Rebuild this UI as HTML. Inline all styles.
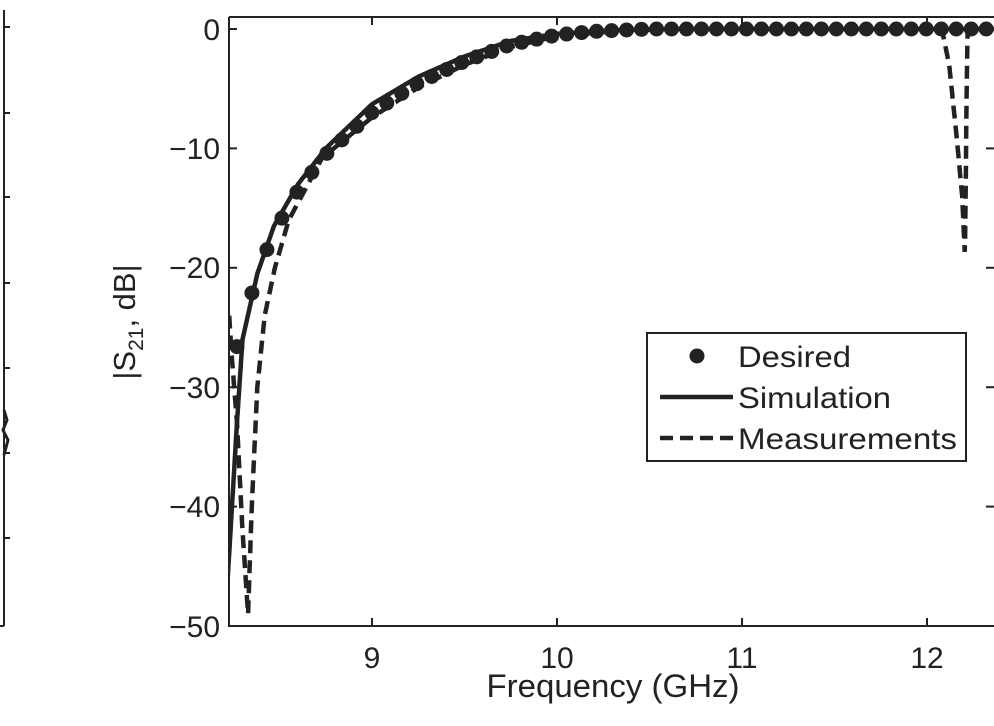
<!DOCTYPE html>
<html><head><meta charset="utf-8"><style>
html,body{margin:0;padding:0;background:#fff;width:994px;height:726px;overflow:hidden}
text{font-family:"Liberation Sans",sans-serif;fill:#222}
</style></head><body>
<svg id="s" width="994" height="726" xmlns="http://www.w3.org/2000/svg">
<defs><clipPath id="c"><rect x="229" y="17" width="770" height="609"/></clipPath></defs>
<line x1="4" y1="10" x2="4" y2="626" stroke="#222" stroke-width="2"/>
<g stroke="#222" stroke-width="2">
<line x1="4" y1="27" x2="10" y2="27"/><line x1="4" y1="113" x2="10" y2="113"/><line x1="4" y1="197" x2="10" y2="197"/><line x1="4" y1="283" x2="10" y2="283"/><line x1="4" y1="368" x2="10" y2="368"/><line x1="4" y1="453" x2="10" y2="453"/><line x1="4" y1="538" x2="10" y2="538"/><line x1="0" y1="626" x2="4" y2="626"/>
</g>
<path d="M4 410 L7 420 L3 430 L8 440 L4 455" stroke="#222" stroke-width="3" fill="none"/>
<path d="M229 17 H994 M229 17 V626 H994" stroke="#222" stroke-width="2" fill="none"/>
<g id="ticks" stroke="#222" stroke-width="2"></g>
<g font-size="30" text-anchor="end">
<text x="220" y="40">0</text><text x="220" y="159">−10</text><text x="220" y="278">−20</text><text x="220" y="398">−30</text><text x="220" y="517">−40</text><text x="220" y="637">−50</text>
</g>
<g font-size="30" text-anchor="middle">
<text x="372" y="668">9</text><text x="557" y="668">10</text><text x="742" y="668">11</text><text x="927" y="668">12</text>
<text x="613" y="697" font-size="32" textLength="253" lengthAdjust="spacingAndGlyphs">Frequency (GHz)</text>
</g>
<text transform="translate(135,322) rotate(-90)" font-size="31" text-anchor="middle">|S<tspan font-size="21" dy="8">21</tspan><tspan dy="-8">, dB|</tspan></text>
<g clip-path="url(#c)" id="data"></g>
<rect x="647" y="333" width="319" height="128" fill="#fff" stroke="#222" stroke-width="2"/>
<circle cx="697" cy="356" r="7.5" fill="#222"/>
<line x1="660" y1="397" x2="733" y2="397" stroke="#222" stroke-width="4.5"/>
<line x1="660" y1="438" x2="733" y2="438" stroke="#222" stroke-width="4.5" stroke-dasharray="13,7"/>
<g font-size="30"><text x="738" y="367" textLength="113" lengthAdjust="spacingAndGlyphs">Desired</text><text x="738" y="408" textLength="153" lengthAdjust="spacingAndGlyphs">Simulation</text><text x="738" y="449" textLength="219" lengthAdjust="spacingAndGlyphs">Measurements</text></g>
</svg>
<script>
var X=function(f){return 557+(f-10)*185},Y=function(d){return 29-d*11.94};
var ns="http://www.w3.org/2000/svg";
function interp(t,f){if(f<=t[0][0])return t[0][1];for(var i=1;i<t.length;i++){if(f<=t[i][0]){var a=t[i-1],b=t[i];return a[1]+(b[1]-a[1])*(f-a[0])/(b[0]-a[0]);}}return t[t.length-1][1];}
var D=[[8.2,-36],[8.27,-26.6],[8.38,-20.5],[8.47,-17],[8.6,-13.5],[8.75,-10.5],[9,-7],[9.25,-4.5],[9.5,-2.7],[9.75,-1.3],[10,-0.5],[10.2,-0.2],[10.5,0],[13,0]];
var S=[[8.22,-46],[8.27,-33],[8.3,-26],[8.38,-20.5],[8.47,-16.5],[8.6,-13],[8.75,-10],[9,-6.3],[9.25,-4],[9.5,-2.3],[9.75,-1],[10,-0.4],[10.3,-0.1],[10.6,0],[13,0]];
var M=[[8.228,-24],[8.24,-27],[8.27,-33],[8.3,-42],[8.33,-49],[8.35,-40],[8.38,-30],[8.42,-24],[8.475,-20],[8.55,-16],[8.73,-10.8],[9,-7.4],[9.25,-4.9],[9.5,-3],[9.75,-1.5],[10,-0.6],[10.3,-0.2],[10.6,0],[12.08,0],[12.12,-3],[12.16,-9],[12.19,-14],[12.205,-19],[12.21,-12],[12.215,-4],[12.22,0],[13,0]];
function path(t,f0,f1,st){var d="";for(var f=f0;f<=f1;f+=0.002){d+=(d?"L":"M")+X(f).toFixed(1)+" "+Y(interp(t,f)).toFixed(1);}
var p=document.createElementNS(ns,"path");p.setAttribute("d",d);p.setAttribute("fill","none");p.setAttribute("stroke","#222");p.setAttribute("stroke-width","4.5");if(st)p.setAttribute("stroke-dasharray",st);document.getElementById("data").appendChild(p);}
path(S,8.22,12.5);path(M,8.228,12.5,"13,7");
var g=document.getElementById("data");
for(var f=8.27;f<12.45;f+=0.081){var c=document.createElementNS(ns,"circle");c.setAttribute("cx",X(f));c.setAttribute("cy",Y(interp(D,f)));c.setAttribute("r","7.5");c.setAttribute("fill","#222");g.appendChild(c);}
var tk=document.getElementById("ticks"),h="";
[0,-10,-20,-30,-40,-50].forEach(function(d){h+='<line x1="229" y1="'+Y(d)+'" x2="237" y2="'+Y(d)+'"/><line x1="986" y1="'+Y(d)+'" x2="994" y2="'+Y(d)+'"/>';});
[9,10,11,12].forEach(function(f){h+='<line x1="'+X(f)+'" y1="626" x2="'+X(f)+'" y2="618"/><line x1="'+X(f)+'" y1="17" x2="'+X(f)+'" y2="25"/>';});
tk.innerHTML=h;
</script>
</body></html>
